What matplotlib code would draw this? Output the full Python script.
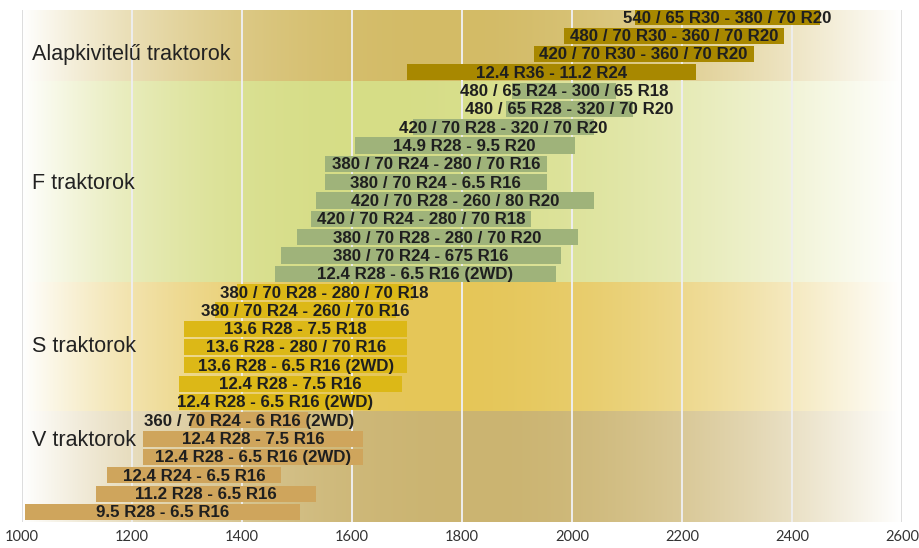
import numpy as np
import matplotlib
matplotlib.use("Agg")
import matplotlib.pyplot as plt
from matplotlib.colors import to_rgb

# group names and their row labels (top to bottom)
groups = ["Alapkivitelű traktorok", "F traktorok", "S traktorok", "V traktorok"]

alap_labels = ["540 / 65 R30 - 380 / 70 R20", "480 / 70 R30 - 360 / 70 R20",
               "420 / 70 R30 - 360 / 70 R20", "12.4 R36 - 11.2 R24"]
alap_start = [2115, 1985, 1930, 1700]
alap_end = [2450, 2385, 2330, 2225]

f_labels = ["480 / 65 R24 - 300 / 65 R18", "480 / 65 R28 - 320 / 70 R20",
            "420 / 70 R28 - 320 / 70 R20", "14.9 R28 - 9.5 R20",
            "380 / 70 R24 - 280 / 70 R16", "380 / 70 R24 - 6.5 R16",
            "420 / 70 R28 - 260 / 80 R20", "420 / 70 R24 - 280 / 70 R18",
            "380 / 70 R28 - 280 / 70 R20", "380 / 70 R24 - 675 R16",
            "12.4 R28 - 6.5 R16 (2WD)"]
f_start = [1890, 1880, 1710, 1605, 1550, 1550, 1535, 1525, 1500, 1470, 1460]
f_end = [2080, 2110, 2040, 2005, 1955, 1955, 2040, 1925, 2010, 1980, 1970]

s_labels = ["380 / 70 R28 - 280 / 70 R18", "380 / 70 R24 - 260 / 70 R16",
            "13.6 R28 - 7.5 R18", "13.6 R28 - 280 / 70 R16",
            "13.6 R28 - 6.5 R16 (2WD)", "12.4 R28 - 7.5 R16",
            "12.4 R28 - 6.5 R16 (2WD)"]
s_start = [1390, 1350, 1295, 1295, 1295, 1285, 1285]
s_end = [1710, 1680, 1700, 1700, 1700, 1690, 1635]

v_labels = ["360 / 70 R24 - 6 R16 (2WD)", "12.4 R28 - 7.5 R16",
            "12.4 R28 - 6.5 R16 (2WD)", "12.4 R24 - 6.5 R16",
            "11.2 R28 - 6.5 R16", "9.5 R28 - 6.5 R16"]
v_start = [1305, 1220, 1220, 1155, 1135, 1005]
v_end = [1520, 1620, 1620, 1470, 1535, 1505]

xticks = [1000, 1200, 1400, 1600, 1800, 2000, 2200, 2400, 2600]

# styling
bar_colors = ["#a88800", "#9fb37a", "#dcb817", "#cfa55c"]
bg_colors = ["#d3bb66", "#d6dd86", "#e5c658", "#cbb471"]
bg_peaks = [1800, 1650, 1780, 1850]
label_rows = [2.05, 9.05, 17.95, 23.1]

all_labels = [alap_labels, f_labels, s_labels, v_labels]
all_start = [alap_start, f_start, s_start, v_start]
all_end = [alap_end, f_end, s_end, v_end]

fig = plt.figure(figsize=(9.19, 5.48), dpi=100)
ax = fig.add_axes([22 / 919, 1 - 522 / 548, 880 / 919, 512 / 548])
nrows = sum(len(l) for l in all_labels)

xs = np.linspace(1000, 2600, 800)
row = 0
for g in range(len(groups)):
    n = len(all_labels[g])
    top = -0.4 if g == 0 else row - 0.5
    bot = nrows - 0.45 if g == len(groups) - 1 else row + n - 0.5
    # horizontal gradient: white -> colour -> white
    pk = bg_peaks[g]
    left = 1 - np.clip((pk - xs) / (pk - 1000), 0, 1) ** 2.3
    right = 1 - np.clip((xs - pk) / (2600 - pk), 0, 1) ** 1.7
    w = np.where(xs < pk, left, right)
    c = np.array(to_rgb(bg_colors[g]))
    img = (1 - w[:, None]) * np.ones(3) + w[:, None] * c
    ax.imshow(img[None, :, :], extent=[1000, 2600, bot, top], aspect="auto",
              zorder=0, interpolation="bilinear")
    ax.text(1018, label_rows[g], groups[g], fontsize=15.5, color="#222222",
            family="Liberation Sans", va="center", ha="left", zorder=5)
    for i in range(n):
        y = row + i
        s, e = all_start[g][i], all_end[g][i]
        ax.barh(y, e - s, left=s, height=0.88, color=bar_colors[g], zorder=3)
        ax.text((s + e) / 2, y + 0.05, all_labels[g][i], fontsize=12.2,
                fontweight="bold", family="Liberation Sans", color="#1f1f1f",
                ha="center", va="center", zorder=6, clip_on=False)
    row += n

ax.set_xlim(1000, 2600)
ax.set_ylim(nrows - 0.45, -0.4)

for x in xticks[1:-1]:
    ax.axvline(x, color="#eeeeee", lw=1.4, zorder=2)
for x in [1000, 2600]:
    ax.axvline(x, color="#dddddd", lw=1.4, zorder=2)

for sp in ax.spines.values():
    sp.set_visible(False)
ax.set_yticks([])
ax.set_xticks(xticks)
ax.set_xticklabels([str(t) for t in xticks], family="Lato", fontsize=10.5,
                   color="#333333")
ax.tick_params(axis="x", length=0, pad=6)

fig.savefig("out.png", dpi=100)
